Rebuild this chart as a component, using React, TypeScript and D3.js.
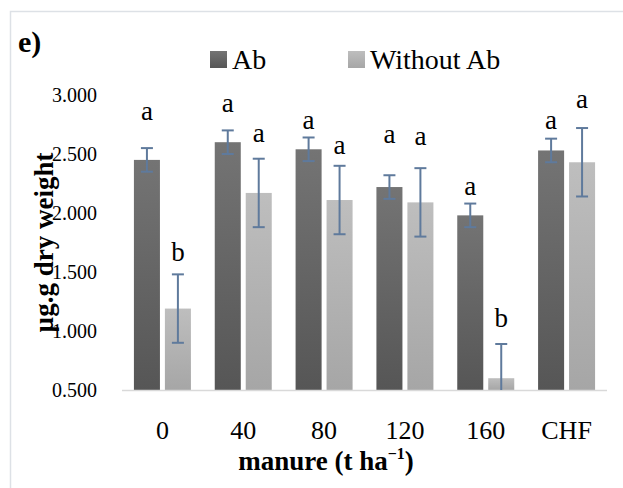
import React, { useEffect, useRef } from 'react'
import * as d3 from 'd3'

const categories = ['0', '40', '80', '120', '160', 'CHF']
const seriesNames = ['Ab', 'Without Ab']
const abValues = [2.45, 2.60, 2.54, 2.22, 1.98, 2.53]
const withoutAbValues = [1.19, 2.17, 2.11, 2.09, 0.60, 2.43]
const abErrors = [0.10, 0.10, 0.10, 0.10, 0.10, 0.10]
const withoutAbErrors = [0.29, 0.29, 0.29, 0.29, 0.29, 0.29]
const abLetters = ['a', 'a', 'a', 'a', 'a', 'a']
const withoutAbLetters = ['b', 'a', 'a', 'a', 'b', 'a']
// where each letter sits, in axis units
const abLetterAt = [2.79, 2.86, 2.71, 2.59, 2.15, 2.71]
const withoutAbLetterAt = [1.59, 2.60, 2.50, 2.58, 1.03, 2.89]
const yTicks = [0.5, 1.0, 1.5, 2.0, 2.5, 3.0]

const W = 623
const H = 488
const serif = '"Liberation Serif", "DejaVu Serif", serif'

const App = () => {
  const svgRef = useRef<SVGSVGElement>(null)

  useEffect(() => {
    const svg = d3.select(svgRef.current)
    svg.selectAll('*').remove()

    const left = 122
    const right = 607
    const top = 95
    const bottom = 390

    const x = d3.scaleBand().domain(categories).range([left, right])
    const xs = d3.scaleBand().domain(seriesNames).range([-28.5, 28.5]).paddingInner(0.16)
    const y = d3.scaleLinear().domain([0.5, 3.0]).range([bottom, top])

    const defs = svg.append('defs')
    const grads = [
      { id: 'gAb', top: '#747474', bot: '#565656' },
      { id: 'gNo', top: '#bebebe', bot: '#a6a6a6' }
    ]
    grads.forEach(g => {
      const lg = defs.append('linearGradient').attr('id', g.id)
        .attr('x1', 0).attr('y1', 0).attr('x2', 0).attr('y2', 1)
      lg.append('stop').attr('offset', '0%').attr('stop-color', g.top)
      lg.append('stop').attr('offset', '100%').attr('stop-color', g.bot)
    })

    svg.append('rect').attr('width', W).attr('height', H).attr('fill', '#fff')
    svg.append('rect')
      .attr('x', 10.5).attr('y', 11.5).attr('width', 640).attr('height', 500)
      .attr('fill', 'none').attr('stroke', '#dde1e6').attr('stroke-width', 1.5)

    svg.append('text').text('e)')
      .attr('x', 18).attr('y', 52)
      .attr('font-family', serif).attr('font-weight', 'bold').attr('font-size', 30)

    // y tick labels (no axis line)
    svg.append('g').selectAll('text').data(yTicks).join('text')
      .attr('x', 97).attr('y', d => y(d)).attr('dy', '0.35em')
      .attr('text-anchor', 'end')
      .attr('font-family', serif).attr('font-size', 20).attr('fill', '#000')
      .text(d => d3.format('.3f')(d))

    const series = [
      { name: 'Ab', values: abValues, errs: abErrors, letters: abLetters, at: abLetterAt, fill: 'url(#gAb)' },
      { name: 'Without Ab', values: withoutAbValues, errs: withoutAbErrors, letters: withoutAbLetters, at: withoutAbLetterAt, fill: 'url(#gNo)' }
    ]

    series.forEach(s => {
      const g = svg.append('g')
      const cx = (i: number) => (x(categories[i]) as number) + x.bandwidth() / 2 + (xs(s.name) as number)
      g.selectAll('rect').data(s.values).join('rect')
        .attr('x', (d, i) => cx(i))
        .attr('y', d => y(d))
        .attr('width', xs.bandwidth())
        .attr('height', d => y(0.5) - y(d))
        .attr('fill', s.fill)
    })

    // axis line
    svg.append('line')
      .attr('x1', left).attr('x2', right).attr('y1', bottom + 0.5).attr('y2', bottom + 0.5)
      .attr('stroke', '#d9d9d9').attr('stroke-width', 1.5)

    series.forEach(s => {
      const g = svg.append('g')
      const mid = (i: number) => (x(categories[i]) as number) + x.bandwidth() / 2 + (xs(s.name) as number) + xs.bandwidth() / 2
      s.values.forEach((v, i) => {
        const hi = y(v + s.errs[i])
        const loVal = v - s.errs[i]
        const lo = y(Math.max(loVal, 0.5))
        const m = mid(i)
        g.append('line').attr('x1', m).attr('x2', m).attr('y1', hi).attr('y2', lo)
          .attr('stroke', '#5f7a9c').attr('stroke-width', 2)
        g.append('line').attr('x1', m - 6).attr('x2', m + 6).attr('y1', hi).attr('y2', hi)
          .attr('stroke', '#5f7a9c').attr('stroke-width', 2)
        if (loVal >= 0.5) {
          g.append('line').attr('x1', m - 6).attr('x2', m + 6).attr('y1', lo).attr('y2', lo)
            .attr('stroke', '#5f7a9c').attr('stroke-width', 2)
        }
        g.append('text').text(s.letters[i])
          .attr('x', m).attr('y', y(s.at[i]))
          .attr('text-anchor', 'middle')
          .attr('font-family', serif).attr('font-size', 27)
      })
    })

    // category labels
    svg.append('g').selectAll('text').data(categories).join('text')
      .attr('x', d => (x(d) as number) + x.bandwidth() / 2)
      .attr('y', 439)
      .attr('text-anchor', 'middle')
      .attr('font-family', serif).attr('font-size', 26)
      .text(d => d)

    // x title
    const xt = svg.append('text')
      .attr('x', 326).attr('y', 470).attr('text-anchor', 'middle')
      .attr('font-family', serif).attr('font-weight', 'bold').attr('font-size', 27)
    xt.append('tspan').text('manure (t ha')
    xt.append('tspan').text('\u22121').attr('font-size', 16).attr('dy', -11)
    xt.append('tspan').text(')').attr('dy', 11)

    // y title
    svg.append('text')
      .attr('transform', `translate(53, ${(top + bottom) / 2}) rotate(-90)`)
      .attr('text-anchor', 'middle')
      .attr('font-family', serif).attr('font-weight', 'bold').attr('font-size', 27)
      .text('\u00b5g.g dry weight')

    // legend
    const legendItems = [
      { name: seriesNames[0], x: 210, fill: 'url(#gAb)' },
      { name: seriesNames[1], x: 348, fill: 'url(#gNo)' }
    ]
    const lg = svg.append('g')
    legendItems.forEach(it => {
      lg.append('rect').attr('x', it.x).attr('y', 51).attr('width', 17).attr('height', 17).attr('fill', it.fill)
      lg.append('text').text(it.name)
        .attr('x', it.x + 22).attr('y', 69)
        .attr('font-family', serif).attr('font-size', 28)
    })
  }, [])

  return (
    <svg ref={svgRef} width={W} height={H}
      style={{ position: 'absolute', left: 0, top: 0, display: 'block' }} />
  )
}

export default App
